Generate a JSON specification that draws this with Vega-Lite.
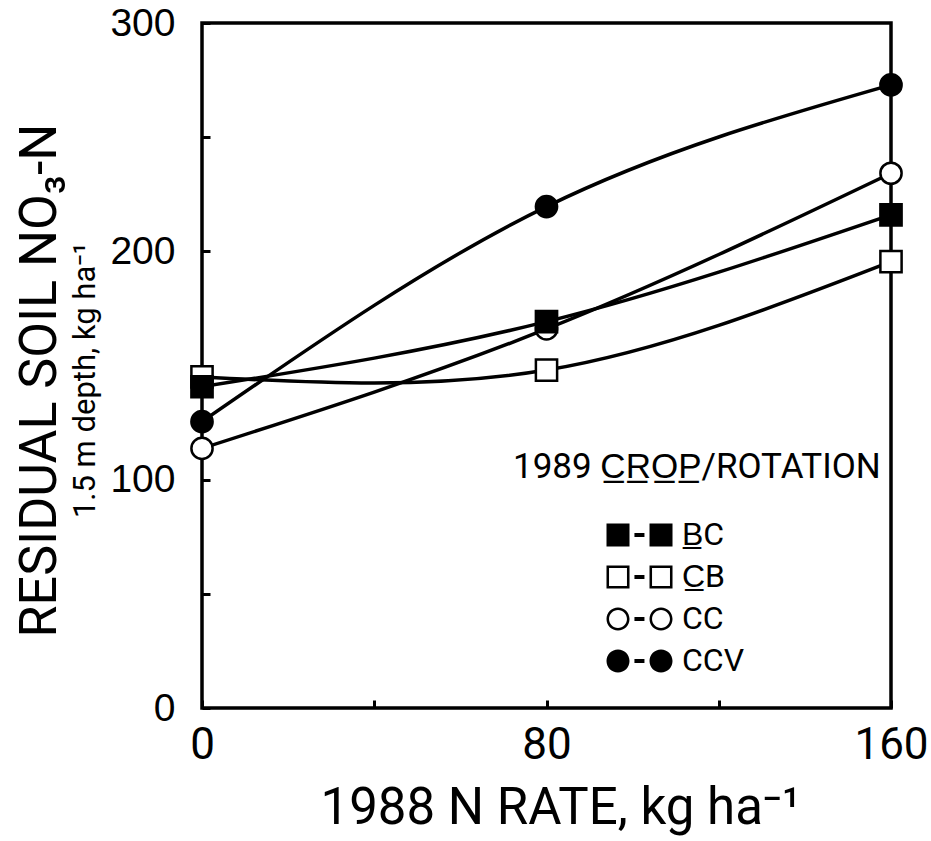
{
  "$schema": "https://vega.github.io/schema/vega-lite/v6.json",
  "width": 689,
  "height": 685,
  "autosize": {"type": "none"},
  "padding": {"left": 202, "top": 23, "right": 40, "bottom": 133},
  "background": "white",
  "config": {
    "view": {"stroke": "black", "strokeWidth": 3.5},
    "font": "Roboto, Liberation Sans, sans-serif"
  },
  "title": {
    "text": "RESIDUAL SOIL NO₃-N",
    "subtitle": "1.5 m depth, kg ha⁻¹",
    "orient": "left",
    "anchor": "middle",
    "frame": "group",
    "fontSize": 52,
    "font": "Roboto, Liberation Sans, sans-serif",
    "fontWeight": "normal",
    "color": "black",
    "subtitleFontSize": 31,
    "subtitleFont": "Roboto, Liberation Sans, sans-serif",
    "subtitleFontWeight": "normal",
    "subtitleColor": "black",
    "subtitlePadding": 4,
    "offset": 8,
    "dx": -15
  },
  "data": {
    "values": [
      {"series": "CB", "rate": 0, "value": 145},
      {"series": "CB", "rate": 80, "value": 148},
      {"series": "CB", "rate": 160, "value": 195.5},
      {"series": "CC", "rate": 0, "value": 113.7},
      {"series": "CC", "rate": 80, "value": 166},
      {"series": "CC", "rate": 160, "value": 234.2},
      {"series": "CCV", "rate": 0, "value": 125.4},
      {"series": "CCV", "rate": 80, "value": 219.6},
      {"series": "CCV", "rate": 160, "value": 272.9},
      {"series": "BC", "rate": 0, "value": 140.7},
      {"series": "BC", "rate": 80, "value": 169.2},
      {"series": "BC", "rate": 160, "value": 216}
    ]
  },
  "layer": [
    {
      "mark": {"type": "line", "interpolate": "natural", "color": "black", "strokeWidth": 3.5},
      "encoding": {
        "x": {
          "field": "rate",
          "type": "quantitative",
          "scale": {"domain": [0, 160], "nice": false, "zero": false},
          "axis": {
            "values": [0, 40, 80, 120, 160],
            "labelExpr": "datum.value % 80 === 0 ? datum.label : ''",
            "tickSize": -8,
            "tickWidth": 3,
            "tickColor": "black",
            "domain": false,
            "grid": false,
            "labelFlush": false,
            "labelFontSize": 44,
            "labelFont": "Roboto, Liberation Sans, sans-serif",
            "labelColor": "black",
            "labelPadding": 23,
            "title": "1988 N RATE, kg ha⁻¹",
            "titleFontSize": 51,
            "titleFont": "Roboto, Liberation Sans, sans-serif",
            "titleFontWeight": "normal",
            "titleColor": "black",
            "titlePadding": 16,
            "titleX": 358
          }
        },
        "y": {
          "field": "value",
          "type": "quantitative",
          "scale": {"domain": [0, 300], "nice": false},
          "axis": {
            "values": [0, 50, 100, 150, 200, 250, 300],
            "labelExpr": "datum.value % 100 === 0 ? datum.label : ''",
            "tickSize": -8,
            "tickWidth": 3,
            "tickColor": "black",
            "domain": false,
            "grid": false,
            "labelFlush": false,
            "labelFontSize": 39,
            "labelFont": "Liberation Sans, sans-serif",
            "labelColor": "black",
            "labelPadding": 35,
            "title": null
          }
        },
        "detail": {"field": "series"}
      }
    },
    {
      "mark": {"type": "point", "filled": true, "stroke": "black", "strokeWidth": 2.5, "size": 450, "opacity": 1},
      "encoding": {
        "x": {"field": "rate", "type": "quantitative"},
        "y": {"field": "value", "type": "quantitative"},
        "shape": {
          "field": "series",
          "type": "nominal",
          "scale": {"domain": ["BC", "CB", "CC", "CCV"], "range": ["square", "square", "circle", "circle"]},
          "legend": null
        },
        "fill": {
          "field": "series",
          "type": "nominal",
          "scale": {"domain": ["BC", "CB", "CC", "CCV"], "range": ["black", "white", "white", "black"]},
          "legend": null
        }
      }
    },
    {
      "transform": [{"filter": "datum.rate < 0"}],
      "mark": {"type": "point", "filled": true, "color": "black", "opacity": 1},
      "encoding": {
        "shape": {
          "field": "series",
          "type": "nominal",
          "scale": {
            "domain": ["BC", "CB", "CC", "CCV"],
            "range": [
              "M-1,-1H1V1H-1Z M1.43,-0.18H2.3V0.18H1.43Z M2.74,-1H4.74V1H2.74Z",
              "M-1,-1H1V1H-1Z M-0.78,-0.78V0.78H0.78V-0.78Z M1.43,-0.18H2.3V0.18H1.43Z M2.74,-1H4.74V1H2.74Z M2.96,-0.78V0.78H4.52V-0.78Z",
              "M1,0A1,1 0 1,1 -1,0A1,1 0 1,1 1,0Z M0.78,0A0.78,0.78 0 1,0 -0.78,0A0.78,0.78 0 1,0 0.78,0Z M1.43,-0.18H2.3V0.18H1.43Z M4.74,0A1,1 0 1,1 2.74,0A1,1 0 1,1 4.74,0Z M4.52,0A0.78,0.78 0 1,0 2.96,0A0.78,0.78 0 1,0 4.52,0Z",
              "M1,0A1,1 0 1,1 -1,0A1,1 0 1,1 1,0Z M1.43,-0.18H2.3V0.18H1.43Z M4.74,0A1,1 0 1,1 2.74,0A1,1 0 1,1 4.74,0Z"
            ]
          },
          "legend": {
            "title": "1989 C̲R̲O̲P̲/ROTATION",
            "orient": "none",
            "legendX": 311,
            "legendY": 427,
            "padding": 0,
            "titleFontSize": 35,
            "titleFont": "Roboto, Liberation Sans, sans-serif",
            "titleFontWeight": "normal",
            "titleColor": "black",
            "titlePadding": 34,
            "titleLimit": 0,
            "labelFontSize": 32,
            "labelFont": "Roboto, Liberation Sans, sans-serif",
            "labelColor": "black",
            "labelLimit": 0,
            "symbolSize": 529,
            "symbolStrokeWidth": 0,
            "symbolFillColor": "black",
            "symbolOffset": 89,
            "labelOffset": 48,
            "rowPadding": 10,
            "labelExpr": "datum.label == 'BC' ? 'B̲C' : datum.label == 'CB' ? 'C̲B' : datum.label"
          }
        }
      }
    }
  ],
  "resolve": {
    "scale": {"shape": "independent", "fill": "independent"},
    "legend": {"shape": "independent", "fill": "independent"}
  }
}
